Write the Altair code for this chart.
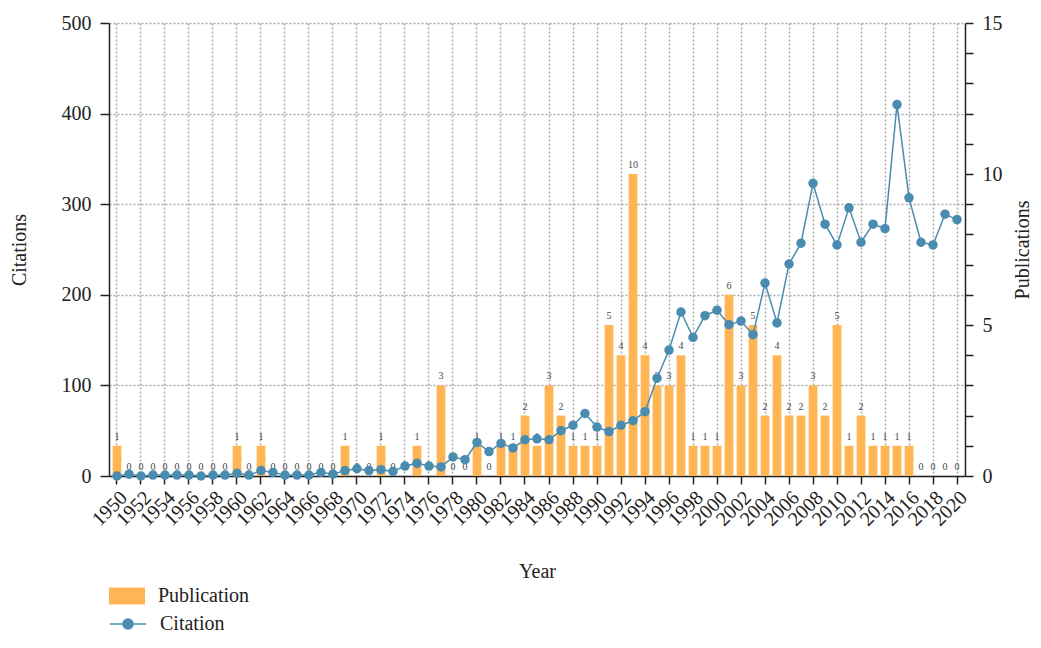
import altair as alt
import pandas as pd

years = list(range(1950, 2021))
publications = [1, 0, 0, 0, 0, 0, 0, 0, 0, 0,
                1, 0, 1, 0, 0, 0, 0, 0, 0, 1,
                0, 0, 1, 0, 0, 1, 0, 3, 0, 0,
                1, 0, 1, 1, 2, 1, 3, 2, 1, 1,
                1, 5, 4, 10, 4, 3, 3, 4, 1, 1,
                1, 6, 3, 5, 2, 4, 2, 2, 3, 2,
                5, 1, 2, 1, 1, 1, 1, 0, 0, 0,
                0]
citations = [0, 2, 0, 1, 1, 1, 1, 0, 1, 1,
             3, 1, 6, 4, 1, 1, 1, 4, 2, 6,
             8, 6, 7, 5, 11, 14, 11, 10, 21, 18,
             37, 27, 36, 31, 40, 41, 40, 50, 56, 69,
             54, 49, 56, 61, 71, 108, 139, 181, 153, 177,
             183, 167, 171, 156, 213, 169, 234, 257, 323, 278,
             255, 296, 258, 278, 273, 410, 307, 258, 255, 289,
             283]
year_ticks = list(range(1950, 2021, 2))
citation_ticks = [0, 100, 200, 300, 400, 500]
publication_ticks = list(range(0, 16))
series_names = ["Publication", "Citation"]

df = pd.DataFrame({"year": years, "pubs": publications, "cit": citations,
                   "s_pub": series_names[0], "s_cit": series_names[1]})

ORANGE = "#FFB554"
BLUE = "#4A8CB0"
FONT = "Liberation Serif"
GRID = "#aaaaaa"

x_enc = alt.X(
    "year:O",
    scale=alt.Scale(paddingInner=0.27, paddingOuter=0.3),
    axis=alt.Axis(values=year_ticks, labelAngle=-45, title="Year", grid=True,
                  gridDash=[2, 2], gridColor=GRID, gridWidth=1.5,
                  tickSize=8, labelPadding=3, titlePadding=32),
)

y_pub = alt.Y(
    "pubs:Q",
    scale=alt.Scale(domain=[0, 15], nice=False),
    axis=alt.Axis(orient="right", values=publication_ticks,
                  labelExpr="datum.value % 5 == 0 ? datum.label : ''",
                  grid=False, title="Publications", titleAngle=270,
                  titleBaseline="top", tickSize=8, labelPadding=9,
                  titlePadding=10),
)

y_cit = alt.Y(
    "cit:Q",
    scale=alt.Scale(domain=[0, 500], nice=False),
    axis=alt.Axis(orient="left", values=citation_ticks, title="Citations",
                  grid=True, gridDash=[2, 2], gridColor=GRID, gridWidth=1.5,
                  tickSize=9, labelPadding=9, titlePadding=32),
)

base = alt.Chart(df)

bars = base.mark_bar().encode(
    x=x_enc,
    y=y_pub,
    fill=alt.Fill(
        "s_pub:N",
        scale=alt.Scale(domain=[series_names[0]], range=[ORANGE]),
        legend=alt.Legend(orient="none", legendX=0, legendY=555, title=None,
                          symbolType="M-1,-0.47H1V0.47H-1Z", symbolSize=1296,
                          symbolStrokeWidth=0, labelFont=FONT, labelFontSize=20,
                          labelColor="#222", labelOffset=13, padding=0),
    ),
)

labels = base.mark_text(baseline="bottom", dy=-4, fontSize=10, font=FONT,
                        color="#444").encode(x=x_enc, y=y_pub, text="pubs:Q")

line = base.mark_line(strokeWidth=1.5).encode(
    x=x_enc,
    y=y_cit,
    stroke=alt.Stroke(
        "s_cit:N",
        scale=alt.Scale(domain=[series_names[1]], range=[BLUE]),
        legend=alt.Legend(orient="none", legendX=0, legendY=582, title=None,
                          symbolType="M-1,0H1M-0.28,0A0.28,0.28 0 1,0 0.28,0A0.28,0.28 0 1,0 -0.28,0Z",
                          symbolSize=1296, symbolStrokeWidth=1.5,
                          symbolFillColor=BLUE, labelFont=FONT, labelFontSize=20,
                          labelColor="#222", labelOffset=13, padding=0),
    ),
)

points = base.mark_circle(size=90, color=BLUE, opacity=1).encode(x=x_enc, y=y_cit)

chart = (
    alt.layer(alt.layer(bars, labels), alt.layer(line, points))
    .resolve_scale(y="independent")
    .properties(width=856, height=453,
                autosize=alt.AutoSizeParams(type="none"),
                padding={"left": 101, "top": 15, "right": 68, "bottom": 158})
    .configure(font=FONT)
    .configure_view(stroke=None)
    .configure_axis(labelFont=FONT, labelFontSize=20, labelColor="#222",
                    titleFont=FONT, titleFontSize=20, titleFontWeight="normal",
                    titleColor="#222", domainColor="#222", domainWidth=1.5,
                    tickColor="#222", tickWidth=1.5)
)

chart.save("out.html", embed_options={"renderer": "svg", "actions": False})
